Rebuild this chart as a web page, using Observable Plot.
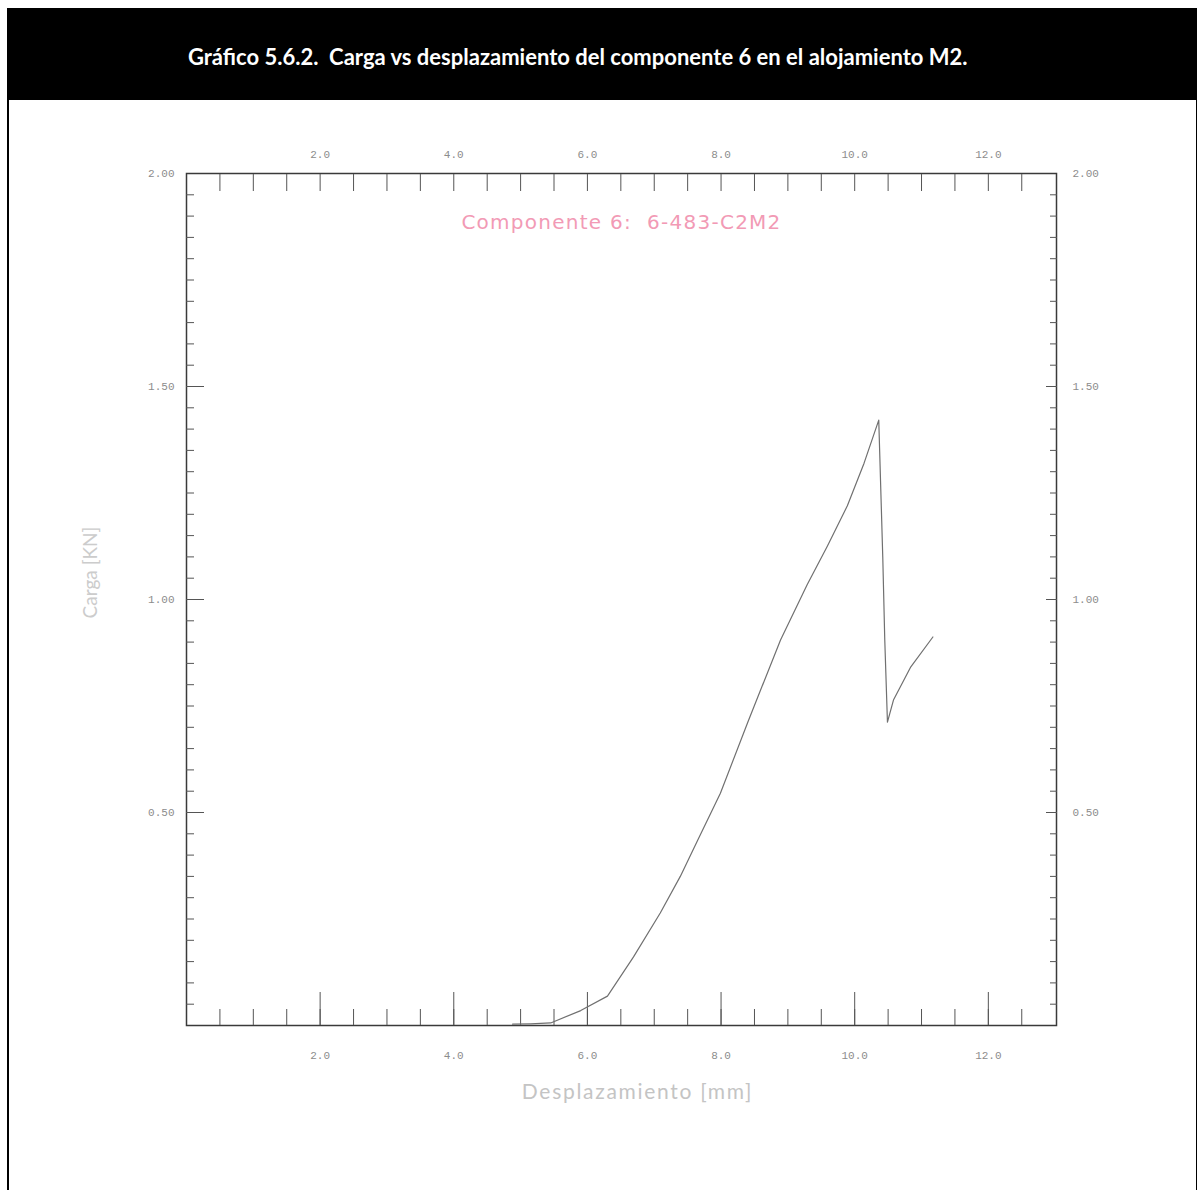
<!DOCTYPE html>
<html>
<head>
<meta charset="utf-8">
<script src="https://cdn.jsdelivr.net/npm/d3@7"></script>
<script src="https://cdn.jsdelivr.net/npm/@observablehq/plot@0.6"></script>
<style>
  html, body { margin: 0; padding: 0; background: #fff; }
  #page { position: relative; width: 1204px; height: 1190px; overflow: hidden; background: #fff; }
  #header { position: absolute; left: 7px; top: 8px; width: 1190px; height: 92px; background: #000;
            color: #fff; font-family: Lato, "Open Sans", sans-serif; font-weight: 700; font-size: 22px;
            display: flex; align-items: center; justify-content: flex-start; white-space: pre;
            box-sizing: border-box; padding-left: 181px; padding-top: 4px; }
  #lborder { position: absolute; left: 7px; top: 100px; width: 2px; height: 1090px; background: #000; }
  #rborder { position: absolute; left: 1196px; top: 100px; width: 1px; height: 1090px; background: #000; }
  #chart { position: absolute; left: 0; top: 100px; }
</style>
</head>
<body>
<div id="page">
  <div id="header">Gráfico 5.6.2.  Carga vs desplazamiento del componente 6 en el alojamiento M2.</div>
  <div id="lborder"></div>
  <div id="rborder"></div>
  <div id="chart"></div>
</div>
<script>
// Data (displacement in mm, load in kN)
const displacement = [4.88, 5.15, 5.45, 5.90, 6.30, 6.69, 7.09, 7.39, 7.65, 7.99, 8.40, 8.89, 9.29, 9.59, 9.89, 10.14, 10.36, 10.42, 10.45, 10.49, 10.58, 10.84, 11.17];
const load         = [0.003, 0.004, 0.006, 0.035, 0.069, 0.161, 0.264, 0.350, 0.435, 0.545, 0.712, 0.905, 1.035, 1.125, 1.220, 1.320, 1.421, 1.100, 0.905, 0.712, 0.764, 0.842, 0.912];

// Axis tick values
const xLabelTicks = [2, 4, 6, 8, 10, 12];
const xMinorTicks = [0.5, 1, 1.5, 2, 2.5, 3, 3.5, 4, 4.5, 5, 5.5, 6, 6.5, 7, 7.5, 8, 8.5, 9, 9.5, 10, 10.5, 11, 11.5, 12, 12.5];
const yLabelTicks = [0.5, 1.0, 1.5, 2.0];
const yMajorTicks = [0.5, 1.0, 1.5];
const yMinorTicks = d3.range(1, 40).map(i => i / 20);

const annotation = "Componente 6:  6-483-C2M2";
const xTitle = "Desplazamiento [mm]";
const yTitle = "Carga [KN]";

const data = displacement.map((x, i) => ({x, y: load[i]}));

const tickStroke = "#555";
const labelFill = "#8c8c8c";
const mono = "'Liberation Mono', 'DejaVu Sans Mono', monospace";

const chart = Plot.plot({
  width: 1204,
  height: 1010,
  marginLeft: 186,
  marginRight: 148,
  marginTop: 73,
  marginBottom: 85,
  x: {domain: [0, 13.02]},
  y: {domain: [0, 2]},
  style: {fontFamily: mono, fontSize: "11px", background: "transparent", overflow: "visible"},
  marks: [
    Plot.frame({stroke: "#3a3a3a", strokeWidth: 1.5}),
    // bottom axis
    Plot.axisX({anchor: "bottom", ticks: xMinorTicks, tickSize: -16, fill: "none", label: null, stroke: tickStroke}),
    Plot.axisX({anchor: "bottom", ticks: xLabelTicks, tickSize: -33, fill: "none", label: null, stroke: tickStroke}),
    Plot.axisX({anchor: "bottom", ticks: xLabelTicks, tickSize: 0, tickPadding: 26, tickFormat: d3.format(".1f"), label: null, fill: labelFill}),
    // top axis
    Plot.axisX({anchor: "top", ticks: xMinorTicks, tickSize: -17, fill: "none", label: null, stroke: tickStroke}),
    Plot.axisX({anchor: "top", ticks: xLabelTicks, tickSize: 0, tickPadding: 16, tickFormat: d3.format(".1f"), label: null, fill: labelFill}),
    // left axis
    Plot.axisY({anchor: "left", ticks: yMinorTicks, tickSize: -8, fill: "none", label: null, stroke: tickStroke}),
    Plot.axisY({anchor: "left", ticks: yMajorTicks, tickSize: -18, fill: "none", label: null, stroke: tickStroke}),
    Plot.axisY({anchor: "left", ticks: yLabelTicks, tickSize: 0, tickPadding: 12, tickFormat: d3.format(".2f"), label: null, fill: labelFill}),
    // right axis
    Plot.axisY({anchor: "right", ticks: yMinorTicks, tickSize: -7, fill: "none", label: null, stroke: tickStroke}),
    Plot.axisY({anchor: "right", ticks: yMajorTicks, tickSize: -11, fill: "none", label: null, stroke: tickStroke}),
    Plot.axisY({anchor: "right", ticks: yLabelTicks, tickSize: 0, tickPadding: 16, tickFormat: d3.format(".2f"), label: null, fill: labelFill}),
    // curve
    Plot.line(data, {x: "x", y: "y", stroke: "#707070", strokeWidth: 1.2}),
    // texts
    Plot.text([annotation], {text: d => d, frameAnchor: "top", lineAnchor: "middle", textAnchor: "middle", dy: 49,
      fill: "#f29ab5", fontSize: 20, fontFamily: "'DejaVu Sans', sans-serif"}),
    Plot.text([xTitle], {text: d => d, frameAnchor: "bottom", lineAnchor: "middle", textAnchor: "middle", dy: 67, dx: 16,
      fill: "#c4c4c4", fontSize: 21, fontFamily: "Lato, sans-serif"}),
    Plot.text([yTitle], {text: d => d, frameAnchor: "left", lineAnchor: "middle", textAnchor: "middle", dx: -96, dy: -27, rotate: -90,
      fill: "#cccccc", fontSize: 19, fontFamily: "Lato, sans-serif"})
  ]
});
// letter spacing for the wide fonts of the original
d3.select(chart).selectAll("text").each(function() {
  if (this.textContent === annotation) this.style.letterSpacing = "1.25px";
  if (this.textContent === xTitle) this.style.letterSpacing = "1.7px";
});
document.getElementById("chart").appendChild(chart);
</script>
</body>
</html>
